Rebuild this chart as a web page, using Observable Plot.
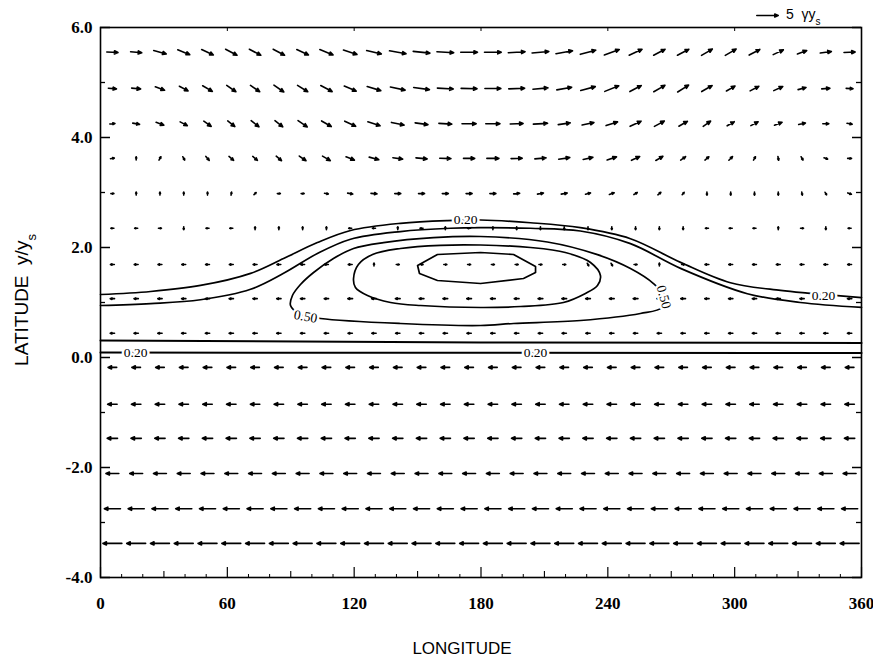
<!DOCTYPE html>
<html><head><meta charset="utf-8">
<script src="https://cdn.jsdelivr.net/npm/d3@7"></script>
<script src="https://cdn.jsdelivr.net/npm/@observablehq/plot@0.6"></script>
<style>body{margin:0;background:#fff;}</style>
</head><body><div id="chart"></div>
<script>
// ---- grid of wind vectors ----
const lons = [5.625,16.875,28.125,39.375,50.625,61.875,73.125,84.375,95.625,106.875,118.125,129.375,140.625,151.875,163.125,174.375,185.625,196.875,208.125,219.375,230.625,241.875,253.125,264.375,275.625,286.875,298.125,309.375,320.625,331.875,343.125,354.375];
const lats = [5.55,4.89,4.25,3.62,2.98,2.35,1.69,1.07,0.44,-0.18,-0.85,-1.47,-2.11,-2.75,-3.38];
// speed in units of gamma*y_s, one row per latitude
const speedRows = [
 [2.6,2.6,3.0,3.0,3.0,3.0,3.0,3.0,3.0,3.3,3.3,3.5,3.9,3.9,3.9,3.9,3.9,3.9,3.9,3.9,3.7,3.7,3.3,3.0,3.0,2.9,2.9,2.8,2.6,2.3,2.6,2.6],
 [1.9,2.1,2.3,2.3,2.6,2.6,2.6,2.8,2.8,3.0,3.0,3.3,3.5,3.7,3.7,3.7,3.7,3.7,3.5,3.5,3.5,3.5,3.0,3.0,3.0,2.8,2.3,2.3,2.3,1.9,1.9,1.6],
 [1.2,1.6,1.9,1.9,2.1,2.1,2.3,2.3,2.6,2.6,2.8,3.0,3.0,3.0,3.0,3.3,3.3,3.0,3.3,2.8,2.8,2.8,2.8,2.6,2.3,2.1,1.9,1.9,1.9,1.6,1.4,1.2],
 [0.9,0.7,0.9,0.9,1.2,1.4,1.4,1.6,1.9,2.1,2.1,2.3,2.3,2.6,2.6,2.6,2.8,2.6,2.6,2.6,2.3,2.3,2.1,1.9,1.4,1.2,1.2,0.9,0.9,0.9,0.9,0.9],
 [0.7,0.7,0.7,0.7,0.7,0.7,0.7,0.7,0.7,0.9,1.2,1.4,1.4,1.4,1.4,1.4,1.4,1.4,1.4,1.4,1.2,1.2,0.9,0.9,0.7,0.7,0.7,0.7,0.7,0.7,0.7,0.9],
 [0.7,0.7,0.7,0.7,0.7,0.7,0.7,0.7,0.7,0.7,0.7,0.7,0.7,0.7,0.7,0.7,0.7,0.7,0.7,0.7,0.7,0.7,0.7,0.7,0.7,0.7,0.7,0.7,0.7,0.7,0.7,0.7],
 [0.9,0.9,0.9,0.9,0.9,0.9,0.9,0.9,0.9,0.9,0.9,0.7,0.7,0.7,0.7,0.7,0.7,0.7,0.7,0.7,0.7,0.7,0.7,0.7,0.7,0.9,0.9,0.9,0.9,0.9,0.9,0.9],
 [1.0,1.0,1.0,1.0,1.0,1.0,1.0,1.0,1.0,1.0,1.1,1.1,1.1,1.1,1.1,1.1,1.1,1.1,1.1,1.1,1.1,1.1,1.1,1.1,1.1,1.0,1.0,1.0,1.0,1.0,1.0,1.0],
 [1.0,1.0,1.0,1.0,1.0,1.0,1.0,1.0,1.0,1.0,1.0,1.0,1.0,1.0,1.0,1.0,1.0,1.0,1.0,1.0,1.0,1.0,1.0,1.0,1.0,1.0,1.0,1.0,1.0,1.0,1.0,1.0],
 [2.0,2.0,2.0,2.0,2.0,2.0,2.0,2.0,2.0,2.0,2.0,2.0,2.0,2.0,2.0,2.0,2.0,2.0,2.0,2.0,2.0,2.0,2.0,2.0,2.0,2.0,2.0,2.0,2.0,2.0,2.0,2.0],
 [2.2,2.2,2.2,2.2,2.2,2.2,2.2,2.2,2.2,2.2,2.2,2.2,2.2,2.2,2.2,2.2,2.2,2.2,2.2,2.2,2.2,2.2,2.2,2.2,2.2,2.2,2.2,2.2,2.2,2.2,2.2,2.2],
 [2.4,2.4,2.4,2.4,2.4,2.4,2.4,2.4,2.4,2.4,2.4,2.4,2.4,2.4,2.4,2.4,2.4,2.4,2.4,2.4,2.4,2.4,2.4,2.4,2.4,2.4,2.4,2.4,2.4,2.4,2.4,2.4],
 [3.0,3.0,3.0,3.0,3.0,3.0,3.0,3.0,3.0,3.0,3.0,3.0,3.0,3.0,3.0,3.0,3.0,3.0,3.0,3.0,3.0,3.0,3.0,3.0,3.0,3.0,3.0,3.0,3.0,3.0,3.0,3.0],
 [3.75,3.75,3.75,3.75,3.75,3.75,3.75,3.75,3.75,3.75,3.75,3.75,3.75,3.75,3.75,3.75,3.75,3.75,3.75,3.75,3.75,3.75,3.75,3.75,3.75,3.75,3.75,3.75,3.75,3.75,3.75,3.75],
 [4.4,4.4,4.4,4.4,4.4,4.4,4.4,4.4,4.4,4.4,4.4,4.4,4.4,4.4,4.4,4.4,4.4,4.4,4.4,4.4,4.4,4.4,4.4,4.4,4.4,4.4,4.4,4.4,4.4,4.4,4.4,4.4]
];
// direction in degrees, counter-clockwise from east
const angleRows = [
 [-3,-5,-15,-22,-25,-28,-28,-28,-25,-22,-18,-13,-10,-6,-3,0,0,3,5,10,15,20,25,28,28,30,30,28,25,20,8,2],
 [-5,-5,-20,-28,-30,-35,-35,-35,-32,-28,-23,-17,-12,-8,-3,-1,0,2,5,10,15,22,28,30,32,30,30,28,25,15,5,-3],
 [5,-10,-20,-28,-35,-38,-38,-38,-35,-30,-25,-18,-12,-8,-3,0,0,2,3,8,12,18,25,28,30,35,30,28,22,12,0,-10],
 [10,90,60,-60,-50,-40,-40,-40,-35,-30,-22,-15,-8,-5,-2,0,0,2,5,8,12,18,25,30,35,40,45,60,-80,-60,-20,0],
 [0,90,90,90,90,80,45,0,0,-10,-10,-5,0,0,0,0,0,5,10,10,15,20,30,40,50,-90,-90,-90,-90,-80,-60,-20],
 [180,180,0,-90,180,180,90,90,90,90,180,180,90,180,90,180,90,-90,-90,-90,-90,-90,-90,-90,-90,180,180,180,90,0,-90,180],
 [180,180,180,180,180,180,180,180,180,180,180,90,0,0,0,0,0,0,0,0,-60,-60,0,90,0,180,180,180,180,180,180,180],
 [180,180,180,180,180,180,180,180,180,180,180,180,180,180,180,180,180,180,180,180,180,180,180,180,180,180,180,180,180,180,180,180],
 [180,180,180,180,180,180,180,180,180,180,180,180,180,180,180,180,180,180,180,180,180,180,180,180,180,180,180,180,180,180,180,180],
 [180,180,180,180,180,180,180,180,180,180,180,180,180,180,180,180,180,180,180,180,180,180,180,180,180,180,180,180,180,180,180,180],
 [180,180,180,180,180,180,180,180,180,180,180,180,180,180,180,180,180,180,180,180,180,180,180,180,180,180,180,180,180,180,180,180],
 [180,180,180,180,180,180,180,180,180,180,180,180,180,180,180,180,180,180,180,180,180,180,180,180,180,180,180,180,180,180,180,180],
 [180,180,180,180,180,180,180,180,180,180,180,180,180,180,180,180,180,180,180,180,180,180,180,180,180,180,180,180,180,180,180,180],
 [180,180,180,180,180,180,180,180,180,180,180,180,180,180,180,180,180,180,180,180,180,180,180,180,180,180,180,180,180,180,180,180],
 [180,180,180,180,180,180,180,180,180,180,180,180,180,180,180,180,180,180,180,180,180,180,180,180,180,180,180,180,180,180,180,180]
];

// ---- contours (lon, lat) ----
const contourA = [[0,1.145],[23.7,1.2],[47.3,1.31],[71,1.53],[86.6,1.8],[102.6,2.09],[118.3,2.31],[141.9,2.44],[164.1,2.49],[179.8,2.5],[203.4,2.45],[227,2.36],[250.7,2.16],[274.4,1.73],[298,1.36],[321.7,1.22],[334.4,1.17],[360,1.09]];
const contourB = [[0,0.945],[23.7,0.98],[47.3,1.05],[71,1.24],[86.6,1.53],[102.6,1.89],[118.3,2.15],[141.9,2.29],[165.6,2.35],[179.8,2.36],[203.4,2.35],[227,2.3],[250.7,2.07],[274.4,1.62],[306,1.16],[331,1.0],[360,0.91]];
const contourC = [[104.1,0.709],[94.6,0.782],[89.9,0.945],[90.8,1.127],[94.6,1.327],[100.8,1.545],[110.2,1.8],[119.7,1.982],[133.9,2.09],[157.5,2.18],[179.8,2.2],[211.4,2.1],[235.1,1.87],[250.7,1.618],[261.6,1.345],[267.3,1.09],[265.8,0.909],[255.4,0.8],[227.1,0.673],[195.4,0.618],[179.8,0.582],[141.9,0.618]];
const contourD = [[119.7,1.436],[122.0,1.691],[128.7,1.873],[141.9,1.982],[160.8,2.04],[179.8,2.045],[203.4,2.0],[219.9,1.909],[231.8,1.727],[236.5,1.491],[235.1,1.309],[229.4,1.164],[219.0,1.0],[198.7,0.927],[179.8,0.909],[151.4,0.945],[137.2,1.0],[126.3,1.127],[120.6,1.273]];
const contourE = [[150.0,1.673],[159.4,1.873],[179.8,1.909],[195.4,1.873],[205.8,1.655],[205.8,1.545],[200.1,1.436],[179.8,1.345],[159.4,1.4],[150.9,1.527]];
const contourF = [[0,0.31],[180,0.275],[360,0.265]];
const contourG = [[0,0.09],[180,0.085],[360,0.08]];
// contour labels
const labelText = ["0.20","0.20","0.50","0.50","0.20","0.20"];
const labelLon  = [172.7, 342, 97, 266.5, 16.6, 205.8];
const labelLat  = [2.5, 1.13, 0.745, 1.1, 0.09, 0.09];
const labelRot  = [0, 0, 10, 75, 0, 0];

// ---- axes ----
const xTicks = [0,60,120,180,240,300,360];
const xMid = [30,90,150,210,270,330];
const xSmall = [10,20,40,50,70,80,100,110,130,140,160,170,190,200,220,230,250,260,280,290,310,320,340,350];
const yTicks = [6,4,2,0,-2,-4];
const yMinor = [5,3,1,-1,-3];
const refSpeed = [5];

const arrows = [];
lats.forEach((lat, i) => lons.forEach((lon, j) => arrows.push({lon, lat, speed: speedRows[i][j], angle: angleRows[i][j]})));
const labels = labelText.map((t, i) => ({t, lon: labelLon[i], lat: labelLat[i], r: labelRot[i]}));

const arrowShape = {
  draw(context, l) {
    const h = Math.min(3.5, l * 0.4), w = h * 0.45;
    context.moveTo(0, 0);
    context.lineTo(0, -l);
    context.moveTo(-w, -l + h);
    context.lineTo(0, -l);
    context.lineTo(w, -l + h);
    context.closePath();
  }
};

const W = 873, H = 660, mL = 100, mR = 12, mT = 27, mB = 83;
const fw = W - mL - mR, fh = H - mT - mB;
const cl = {x: d => d[0], y: d => d[1], stroke: "black", strokeWidth: 1.7};

const svg = Plot.plot({
  width: W, height: H,
  marginLeft: mL, marginRight: mR, marginTop: mT, marginBottom: mB,
  x: {domain: [0, 360]},
  y: {domain: [-4, 6]},
  length: {domain: [0, 5], range: [0, 21.5]},
  style: {fontFamily: "Liberation Serif", color: "#000", background: "#fff"},
  marks: [
    Plot.axisX(xTicks, {tickSize: 0, tickPadding: 19, tickFormat: d => String(d), fontSize: 17, fontWeight: 600, label: null}),
    Plot.axisY(yTicks, {tickSize: 0, tickPadding: 8, tickFormat: d => d.toFixed(1), fontSize: 17, fontWeight: "bold", label: null}),
    // inward ticks
    Plot.tickY(yTicks, {y: d => d, insetRight: fw - 10, stroke: "black", strokeWidth: 1.5}),
    Plot.tickY(yMinor, {y: d => d, insetRight: fw - 5, stroke: "black", strokeWidth: 1.3}),
    Plot.tickY(yTicks, {y: d => d, insetLeft: fw - 9, stroke: "black", strokeWidth: 1.5}),
    Plot.tickY(yMinor, {y: d => d, insetLeft: fw - 5, stroke: "black", strokeWidth: 1.3}),
    Plot.tickX(xTicks, {x: d => d, insetTop: fh - 10, stroke: "black", strokeWidth: 1.2}),
    Plot.tickX(xMid, {x: d => d, insetTop: fh - 6, stroke: "black", strokeWidth: 1.1}),
    Plot.tickX(xSmall, {x: d => d, insetTop: fh - 3, stroke: "black", strokeWidth: 1}),
    Plot.tickX(xTicks, {x: d => d, insetBottom: fh - 4, stroke: "black", strokeWidth: 1}),
    Plot.frame({stroke: "black", strokeWidth: 1.6}),
    // contours
    Plot.line(contourA, {...cl, curve: "catmull-rom"}),
    Plot.line(contourB, {...cl, curve: "catmull-rom"}),
    Plot.line(contourC, {...cl, curve: "catmull-rom-closed"}),
    Plot.line(contourD, {...cl, curve: "catmull-rom-closed"}),
    Plot.line(contourE, {...cl, curve: "linear-closed"}),
    Plot.line(contourF, {...cl, curve: "linear", strokeWidth: 2}),
    Plot.line(contourG, {...cl, curve: "linear", strokeWidth: 2}),
    // vectors
    Plot.vector(arrows, {x: "lon", y: "lat", length: "speed", rotate: d => 90 - d.angle, anchor: "middle", shape: arrowShape, stroke: "black", strokeWidth: 1.6, strokeLinecap: "round", strokeLinejoin: "round"}),
    // contour labels
    Plot.text(labels, {x: "lon", y: "lat", text: "t", rotate: "r", fontSize: 13.5, fontFamily: "Liberation Serif", fill: "black", stroke: "white", strokeWidth: 5, paintOrder: "stroke"}),
    // reference vector
    Plot.vector(refSpeed, {frameAnchor: "top-right", length: d => d, rotate: 90, anchor: "middle", dx: -94, dy: -12, shape: arrowShape, stroke: "black", strokeWidth: 1.5})
  ]
});

const s = d3.select(svg);
const lat = s.append("text")
  .attr("transform", "translate(28,300) rotate(-90)")
  .attr("text-anchor", "middle")
  .style("font-family", "'Liberation Sans', Arial, sans-serif")
  .style("font-size", "19px").attr("fill", "black");
lat.append("tspan").text("LATITUDE  y/y");
lat.append("tspan").attr("baseline-shift", "sub").style("font-size", "13px").text("s");

s.append("text")
  .attr("x", 462).attr("y", 654)
  .attr("text-anchor", "middle")
  .style("font-family", "'Liberation Sans', Arial, sans-serif")
  .style("font-size", "17px").attr("fill", "black")
  .text("LONGITUDE");

const leg = s.append("text")
  .attr("x", 786).attr("y", 19)
  .attr("text-anchor", "start")
  .style("text-anchor", "start")
  .style("font-family", "'Liberation Sans', Arial, sans-serif")
  .style("font-size", "14px").attr("fill", "black");
leg.append("tspan").text("5  γy");
leg.append("tspan").attr("baseline-shift", "sub").style("font-size", "10px").text("s");

document.getElementById("chart").appendChild(svg);
</script>
</body></html>
